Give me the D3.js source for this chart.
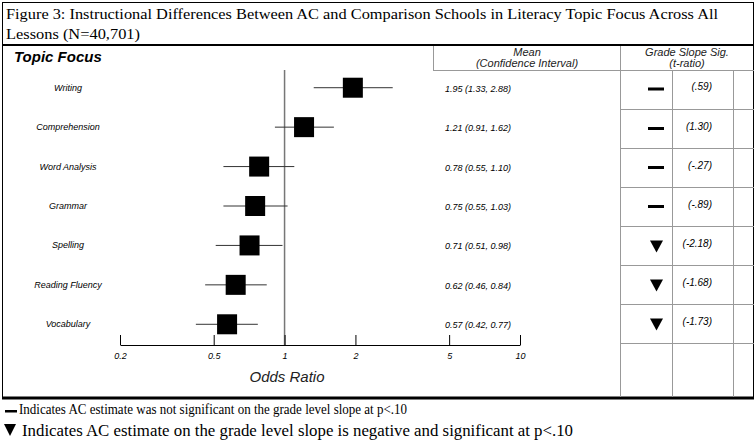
<!DOCTYPE html><html><head><meta charset="utf-8">
<script src="https://cdn.jsdelivr.net/npm/d3@7"></script>
<style>body{margin:0;background:#fff}</style></head><body>
<svg id="c" width="756" height="444"></svg>
<script>
const topics=["Writing","Comprehension","Word Analysis","Grammar","Spelling","Reading Fluency","Vocabulary"];
const means=[1.95,1.21,0.78,0.75,0.71,0.62,0.57];
const lows=[1.33,0.91,0.55,0.55,0.51,0.46,0.42];
const highs=[2.88,1.62,1.10,1.03,0.98,0.84,0.77];
const meanLabels=["1.95 (1.33, 2.88)","1.21 (0.91, 1.62)","0.78 (0.55, 1.10)","0.75 (0.55, 1.03)","0.71 (0.51, 0.98)","0.62 (0.46, 0.84)","0.57 (0.42, 0.77)"];
const sig=["dash","dash","dash","dash","tri","tri","tri"];
const tratios=["(.59)","(1.30)","(-.27)","(-.89)","(-2.18)","(-1.68)","(-1.73)"];
const ticks=[0.2,0.5,1,2,5,10];

const svg=d3.select("#c");
const sans="Liberation Sans, Arial, sans-serif", serif="Liberation Serif, Times New Roman, serif";
const x=d3.scaleLog().domain([0.2,10]).range([120,520]);
const y=d3.scaleBand().domain(topics).range([68,344]);
const yc=t=>y(t)+y.bandwidth()/2;
const g="#999";
svg.append("rect").attr("x",2.5).attr("y",2.5).attr("width",751).attr("height",396).attr("fill","none").attr("stroke","#000");
svg.append("line").attr("x1",2).attr("x2",754).attr("y1",45).attr("y2",45).attr("stroke","#000").attr("stroke-width",2);
svg.append("line").attr("x1",2).attr("x2",754).attr("y1",398).attr("y2",398).attr("stroke","#000").attr("stroke-width",3);
svg.append("text").attr("x",6).attr("y",19).attr("font-family",serif).attr("font-size",15).attr("textLength",712).attr("lengthAdjust","spacingAndGlyphs").text("Figure 3: Instructional Differences Between AC and Comparison Schools in Literacy Topic Focus Across All");
svg.append("text").attr("x",6).attr("y",39).attr("font-family",serif).attr("font-size",15).attr("textLength",134).attr("lengthAdjust","spacingAndGlyphs").text("Lessons (N=40,701)");
const L=(x1,y1,x2,y2)=>svg.append("line").attr("x1",x1).attr("y1",y1).attr("x2",x2).attr("y2",y2).attr("stroke",g);
L(433.5,46,433.5,70);L(620.5,46,620.5,397);L(672.5,70,672.5,397);L(733.5,70,733.5,397);
L(433,70.5,754,70.5);
const rowB=[109,148,187,226,265,304,343];
rowB.forEach(b=>L(620,b+0.5,754,b+0.5));
svg.append("text").attr("x",14).attr("y",62).attr("font-family",sans).attr("font-size",15).attr("font-weight","bold").attr("font-style","italic").text("Topic Focus");
const hdr=(xx,yy,t)=>svg.append("text").attr("x",xx).attr("y",yy).attr("text-anchor","middle").attr("font-family",sans).attr("font-size",11).attr("font-style","italic").attr("fill","#222").text(t);
hdr(527,56,"Mean");hdr(527,67,"(Confidence Interval)");hdr(687,56,"Grade Slope Sig.");hdr(687,67,"(t-ratio)");
L(x(1),70,x(1),345).attr("stroke","#777").attr("stroke-width",1.5);
const ax=svg.append("g").attr("transform","translate(0,345)").call(d3.axisBottom(x).tickValues(ticks).tickSizeOuter(0).tickSizeInner(0).tickFormat(d3.format("")));
ax.select(".domain").attr("stroke","#000");
ax.selectAll(".tick line").remove();
ax.selectAll(".tick").append("line").attr("y1",0).attr("y2",-10).attr("stroke","#000");
ax.selectAll("text").attr("dy",0).attr("y",14).attr("font-family",sans).attr("font-size",9).attr("font-style","italic");
svg.append("text").attr("x",287).attr("y",382).attr("text-anchor","middle").attr("font-family",sans).attr("font-size",15).attr("font-style","italic").attr("fill","#222").text("Odds Ratio");
topics.forEach((t,i)=>{
  const c=yc(t);
  svg.append("text").attr("x",68).attr("y",c+3).attr("text-anchor","middle").attr("font-family",sans).attr("font-size",9).attr("font-style","italic").text(t);
  svg.append("line").attr("x1",x(lows[i])).attr("x2",x(highs[i])).attr("y1",c).attr("y2",c).attr("stroke","#333");
  svg.append("rect").attr("x",x(means[i])-10).attr("y",c-10).attr("width",20).attr("height",20).attr("fill","#000");
  svg.append("text").attr("x",478).attr("y",c+4).attr("text-anchor","middle").attr("font-family",sans).attr("font-size",9).attr("font-style","italic").text(meanLabels[i]);
  const cy=i==0?89:(rowB[i-1]+rowB[i])/2;
  if(sig[i]=="dash") svg.append("rect").attr("x",648).attr("y",cy-1.5).attr("width",16).attr("height",3).attr("fill","#000");
  else svg.append("path").attr("d",`M650,${cy-5}L663,${cy-5}L656.5,${cy+7}Z`).attr("fill","#000");
  svg.append("text").attr("x",712).attr("y",cy+1).attr("text-anchor","end").attr("font-family",sans).attr("font-size",10).attr("font-style","italic").text(tratios[i]);
});
svg.append("rect").attr("x",5).attr("y",410).attr("width",12).attr("height",2.5).attr("fill","#000");
svg.append("text").attr("x",19).attr("y",414).attr("font-family",serif).attr("font-size",15).attr("textLength",388).attr("lengthAdjust","spacingAndGlyphs").text("Indicates AC estimate was not significant on the grade level slope at p<.10");
svg.append("path").attr("d","M4,424L16,424L10,436Z").attr("fill","#000");
svg.append("text").attr("x",22).attr("y",436).attr("font-family",serif).attr("font-size",16).attr("textLength",551).attr("lengthAdjust","spacingAndGlyphs").text("Indicates AC estimate on the grade level slope is negative and significant at p<.10");
</script></body></html>
